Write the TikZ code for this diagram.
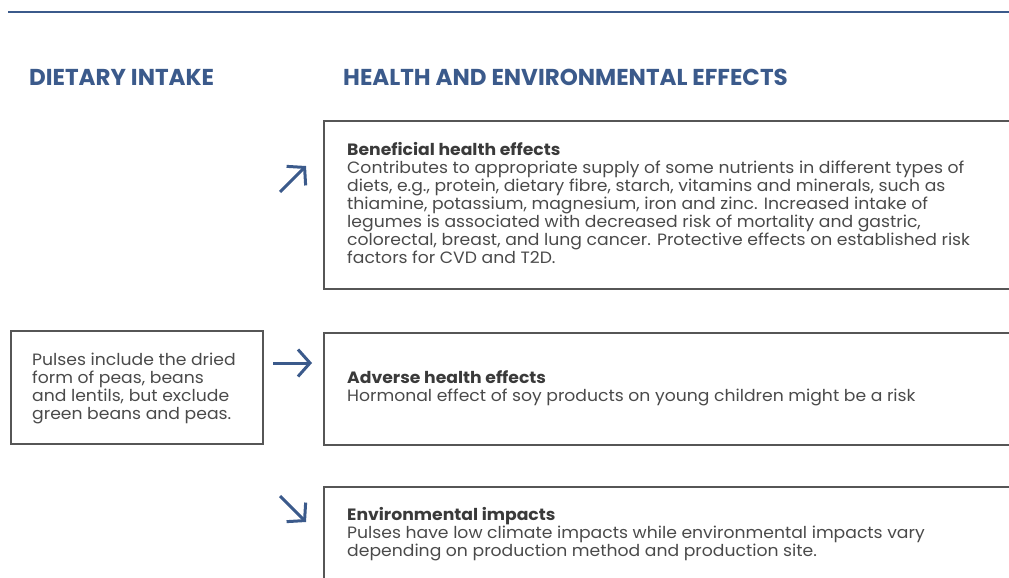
\documentclass[tikz,border=0pt]{standalone}
\usepackage{fontspec}
\setmainfont{Poppins}
\newfontfamily\bodyfont[FakeStretch=1.05]{Poppins}
\usetikzlibrary{arrows.meta}
\definecolor{hblue}{HTML}{3B5A8B}
\definecolor{bgray}{HTML}{565656}
\definecolor{tgray}{HTML}{4A4A4A}
\definecolor{ttgray}{HTML}{3A3A3A}
\begin{document}
\begin{tikzpicture}[x=1pt,y=-1pt,
  frame/.style={draw=bgray,line width=1.8pt,anchor=north west,inner sep=0pt},
  header/.style={font=\fontsize{23}{26}\selectfont\bfseries,text=hblue,anchor=base west,inner sep=0pt},
  body/.style={font=\bodyfont\fontsize{16.4}{18}\selectfont,text=tgray,anchor=base west,inner sep=0pt},
  icon/.style={hblue,line width=3pt,-{Straight Barb[length=12pt,width=27pt]}}]
\useasboundingbox (0,0) rectangle (1009,578);
\coordinate (rl) at (8,12);
\coordinate (rr) at (1009,12);
\draw[hblue,line width=2.2pt] (rl) -- (rr);
\node[header] (h1) at (29,85) {DIETARY INTAKE};
\node[header] (h2) at (343,85) {HEALTH AND ENVIRONMENTAL EFFECTS};
% boxes
\node[frame,minimum width=252pt,minimum height=113pt] (left) at (10,330) {};
\node[frame,minimum width=700pt,minimum height=168pt] (b1) at (323,120) {};
\node[frame,minimum width=700pt,minimum height=112pt] (b2) at (323,332) {};
\node[frame,minimum width=700pt,minimum height=150pt] (b3) at (323,486) {};
% texts
\node[body] (tl) at (32,365) {\begin{tabular}[t]{@{}l@{}}Pulses include the dried\\form of peas, beans\\and lentils, but exclude\\green beans and peas.\end{tabular}};
\node[body] (t1) at (347,155) {\begin{tabular}[t]{@{}l@{}}{\color{ttgray}\bfseries Beneficial health effects}\\Contributes to appropriate supply of some nutrients in different types of\\diets, e.g., protein, dietary fibre, starch, vitamins and minerals, such as\\thiamine, potassium, magnesium, iron and zinc. Increased intake of\\legumes is associated with decreased risk of mortality and gastric,\\colorectal, breast, and lung cancer. Protective effects on established risk\\factors for CVD and T2D.\end{tabular}};
\node[body] (t2) at (347,383) {\begin{tabular}[t]{@{}l@{}}{\color{ttgray}\bfseries Adverse health effects}\\Hormonal effect of soy products on young children might be a risk\end{tabular}};
\node[body] (t3) at (347,520) {\begin{tabular}[t]{@{}l@{}}{\color{ttgray}\bfseries Environmental impacts}\\Pulses have low climate impacts while environmental impacts vary\\depending on production method and production site.\end{tabular}};
% arrows
\coordinate (a1s) at (280,192);
\coordinate (a1e) at (306,166);
\coordinate (a2s) at (273,363);
\coordinate (a2e) at (312,363);
\coordinate (a3s) at (280,496);
\coordinate (a3e) at (306,522);
\draw[icon] (a1s) -- (a1e);
\draw[icon] (a2s) -- (a2e);
\draw[icon] (a3s) -- (a3e);
\end{tikzpicture}
\end{document}
